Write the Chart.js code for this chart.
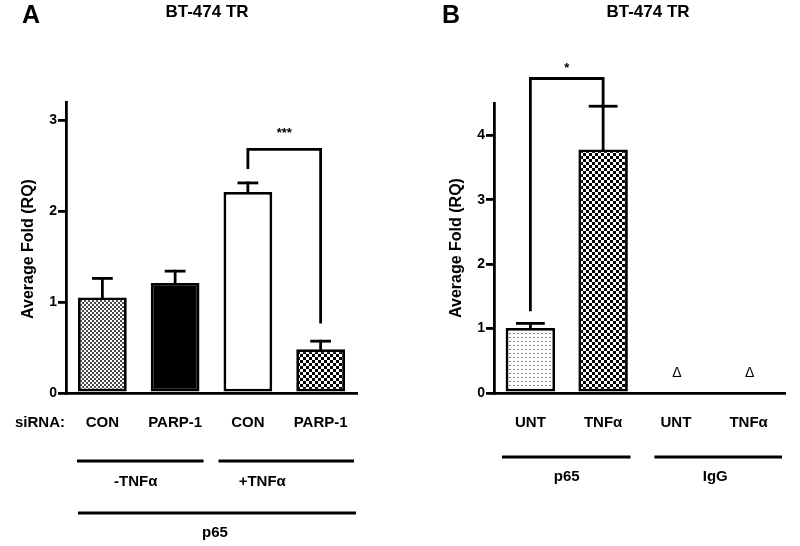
<!DOCTYPE html>
<html>
<head>
<meta charset="utf-8">
<script src="https://cdn.jsdelivr.net/npm/chart.js@4.4.1/dist/chart.umd.min.js"></script>
<style>
  body { margin: 0; background: #fff; }
  #wrap { width: 800px; height: 546px; display: flex; }
  canvas { display: block; }
</style>
</head>
<body>
<div id="wrap">
  <canvas id="chartA" width="400" height="546"></canvas>
  <canvas id="chartB" width="400" height="546"></canvas>
</div>
<script>
// panel A data
var catsA = ["CON", "PARP-1", "CON", "PARP-1"];
var valuesA = [1.05, 1.21, 2.21, 0.48];
var errorsA = [0.21, 0.13, 0.10, 0.09];
var ticksA = [0, 1, 2, 3];
var groupsA = ["-TNF\u03b1", "+TNF\u03b1"];

// panel B data
var catsB = ["UNT", "TNF\u03b1", "UNT", "TNF\u03b1"];
var valuesB = [1.01, 3.78, null, null];
var errorsB = [0.07, 0.67, null, null];
var ticksB = [0, 1, 2, 3, 4];
var groupsB = ["p65", "IgG"];

var FONT = "'Liberation Sans', Arial, sans-serif";
var INK = "#000";
var LW = 2.8;

function tile(size, draw) {
    var c = document.createElement("canvas");
    c.width = size;
    c.height = size;
    var g = c.getContext("2d");
    g.fillStyle = "#fff";
    g.fillRect(0, 0, size, size);
    draw(g);
    return g.createPattern(c, "repeat");
}
function checker(cell, color) {
    return tile(cell * 2, function (g) {
        g.fillStyle = color;
        g.fillRect(0, 0, cell, cell);
        g.fillRect(cell, cell, cell, cell);
    });
}
var fineGrey = checker(2, "#4a4a4a");
var coarseCheck = checker(3, "#000");
var dots = tile(4, function (g) {
    g.fillStyle = "#8a8a8a";
    g.fillRect(1, 1, 2, 1);
});

function text(ctx, str, x, y, size, weight, align) {
    ctx.save();
    ctx.fillStyle = INK;
    ctx.font = (weight || "bold") + " " + size + "px " + FONT;
    ctx.textAlign = align || "center";
    ctx.textBaseline = "middle";
    ctx.fillText(str, x, y);
    ctx.restore();
}
function line(ctx, pts) {
    ctx.save();
    ctx.strokeStyle = INK;
    ctx.lineWidth = LW;
    ctx.lineCap = "square";
    ctx.lineJoin = "miter";
    ctx.beginPath();
    ctx.moveTo(pts[0][0], pts[0][1]);
    for (let i = 1; i < pts.length; i++) ctx.lineTo(pts[i][0], pts[i][1]);
    ctx.stroke();
    ctx.restore();
}

// upward error bars with caps
function errorBars(errors, capHalf) {
    return {
        id: "errbars",
        afterDatasetsDraw: function (chart) {
            var y = chart.scales.y;
            var meta = chart.getDatasetMeta(0);
            var vals = chart.data.datasets[0].data;
            meta.data.forEach(function (bar, i) {
                if (vals[i] == null || errors[i] == null) return;
                var top = y.getPixelForValue(vals[i] + errors[i]);
                line(chart.ctx, [[bar.x, bar.y], [bar.x, top]]);
                line(chart.ctx, [[bar.x - capHalf, top], [bar.x + capHalf, top]]);
            });
        }
    };
}

function baseOptions(maxY, ticks, yWidth, padTop, padRight) {
    return {
        responsive: false,
        devicePixelRatio: 1,
        animation: false,
        layout: { padding: { top: padTop, right: padRight, left: 0, bottom: 0 } },
        plugins: { legend: { display: false }, tooltip: { enabled: false } },
        scales: {
            x: {
                grid: { display: false, drawTicks: false },
                border: { color: INK, width: LW },
                ticks: {
                    color: INK,
                    font: { family: FONT, size: 15, weight: "bold" },
                    padding: 21,
                    maxRotation: 0,
                    autoSkip: false
                },
                afterFit: function (s) { s.height = 153; }
            },
            y: {
                min: 0,
                max: maxY,
                afterBuildTicks: function (s) {
                    s.ticks = ticks.map(function (v) { return { value: v }; });
                },
                grid: { drawOnChartArea: false, drawTicks: true, tickLength: 8, color: INK, lineWidth: LW },
                border: { color: INK, width: LW },
                ticks: { color: INK, font: { family: FONT, size: 14, weight: "bold" }, padding: 1 },
                afterFit: function (s) { s.width = yWidth; }
            }
        }
    };
}

// ---------- panel A ----------
var annotA = {
    id: "annotA",
    afterDraw: function (chart) {
        var ctx = chart.ctx, x = chart.scales.x, y = chart.scales.y;
        text(ctx, "A", 31, 16, 25);
        text(ctx, "BT-474 TR", 207, 12, 17);
        ctx.save();
        ctx.translate(29, 249);
        ctx.rotate(-Math.PI / 2);
        text(ctx, "Average Fold (RQ)", 0, 0, 16);
        ctx.restore();

        // significance bracket between bars 3 and 4
        var xl = x.getPixelForValue(2), xr = x.getPixelForValue(3);
        var lvl = y.getPixelForValue(2.68);
        line(ctx, [[xl, y.getPixelForValue(2.48)], [xl, lvl], [xr, lvl], [xr, y.getPixelForValue(0.78)]]);
        text(ctx, "***", (xl + xr) / 2, 133, 13);

        text(ctx, "siRNA:", 15, 423, 15, "bold", "left");

        var p0 = x.getPixelForValue(0), p1 = x.getPixelForValue(1);
        var p2 = x.getPixelForValue(2), p3 = x.getPixelForValue(3);
        line(ctx, [[p0 - 24, 461], [p1 + 27, 461]]);
        line(ctx, [[p2 - 28, 461], [p3 + 32, 461]]);
        text(ctx, groupsA[0], (p0 + p1) / 2 - 3, 482, 15);
        text(ctx, groupsA[1], (p2 + p3) / 2 - 22, 482, 15);
        line(ctx, [[p0 - 23, 513], [p3 + 34, 513]]);
        text(ctx, "p65", 215, 533, 15);
    }
};

var optsA = baseOptions(3.2, ticksA, 66, 102, 43);
new Chart(document.getElementById("chartA"), {
    type: "bar",
    data: {
        labels: catsA,
        datasets: [{
            data: valuesA,
            backgroundColor: [fineGrey, "#000", "#fff", coarseCheck],
            borderColor: INK,
            borderWidth: LW,
            borderSkipped: false,
            barPercentage: 0.67,
            categoryPercentage: 1
        }]
    },
    options: optsA,
    plugins: [errorBars(errorsA, 9), annotA]
});

// ---------- panel B ----------
var annotB = {
    id: "annotB",
    afterDraw: function (chart) {
        var ctx = chart.ctx, x = chart.scales.x, y = chart.scales.y;
        text(ctx, "B", 51, 16, 25);
        text(ctx, "BT-474 TR", 248, 12, 17);
        ctx.save();
        ctx.translate(57, 248);
        ctx.rotate(-Math.PI / 2);
        text(ctx, "Average Fold (RQ)", 0, 0, 16);
        ctx.restore();

        // significance bracket between bars 1 and 2
        var xl = x.getPixelForValue(0), xr = x.getPixelForValue(1);
        var lvl = y.getPixelForValue(4.88);
        line(ctx, [[xl, y.getPixelForValue(1.29)], [xl, lvl], [xr, lvl], [xr, y.getPixelForValue(valuesB[1] + errorsB[1])]]);
        text(ctx, "*", (xl + xr) / 2, 68, 13);

        // not detected markers
        [2, 3].forEach(function (i) {
            text(ctx, "\u0394", x.getPixelForValue(i) + 1, y.getPixelForValue(0.31), 14, "normal");
        });

        var p0 = x.getPixelForValue(0), p1 = x.getPixelForValue(1);
        var p2 = x.getPixelForValue(2), p3 = x.getPixelForValue(3);
        line(ctx, [[p0 - 27, 457], [p1 + 26, 457]]);
        line(ctx, [[p2 - 20, 457], [p3 + 32, 457]]);
        text(ctx, groupsB[0], (p0 + p1) / 2, 477, 15);
        text(ctx, groupsB[1], (p2 + p3) / 2 + 3, 477, 15);
    }
};

var optsB = baseOptions(4.5, ticksB, 94, 103, 15);
new Chart(document.getElementById("chartB"), {
    type: "bar",
    data: {
        labels: catsB,
        datasets: [{
            data: valuesB,
            backgroundColor: [dots, coarseCheck, "#fff", "#fff"],
            borderColor: INK,
            borderWidth: LW,
            borderSkipped: false,
            barPercentage: 0.68,
            categoryPercentage: 1
        }]
    },
    options: optsB,
    plugins: [errorBars(errorsB, 13), annotB]
});
</script>
</body>
</html>
